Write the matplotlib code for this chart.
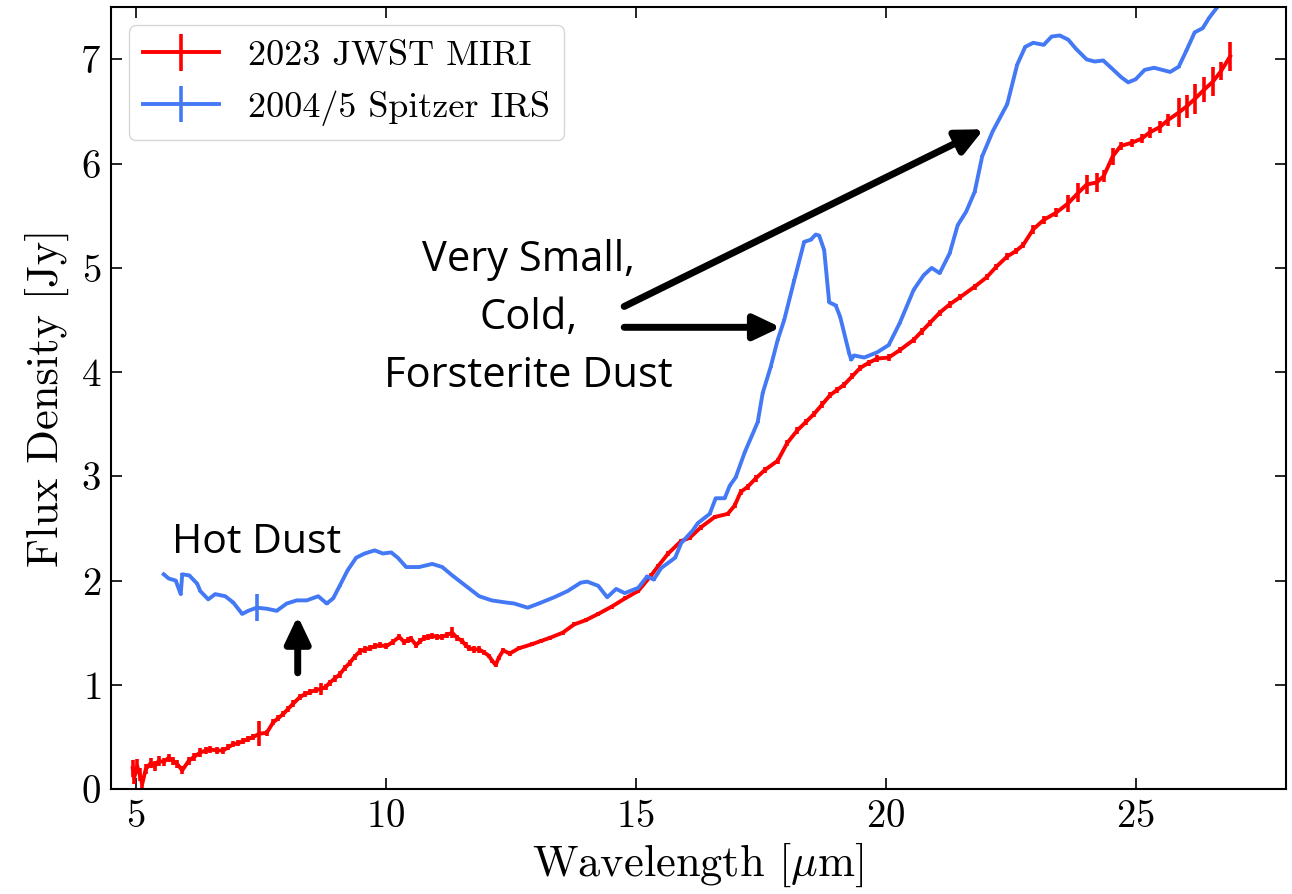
import matplotlib
matplotlib.use('Agg')
import matplotlib.pyplot as plt
import numpy as np

plt.rcParams['font.family'] = 'serif'
plt.rcParams['font.serif'] = ['cmr10']
plt.rcParams['mathtext.fontset'] = 'cm'
plt.rcParams['axes.formatter.use_mathtext'] = True

# 2023 JWST MIRI spectrum
miri_wave = [4.94, 4.97, 5.03, 5.08, 5.13, 5.20, 5.30, 5.38, 5.46, 5.56, 5.66, 5.75, 5.83, 5.93,
             6.06, 6.17, 6.29, 6.40, 6.49, 6.62, 6.75, 6.85, 6.95, 7.05, 7.15, 7.25, 7.35, 7.47,
             7.62, 7.75, 7.85, 7.95, 8.05, 8.15, 8.28, 8.38, 8.48, 8.60, 8.71, 8.80, 8.88, 8.98,
             9.08, 9.18, 9.28, 9.38, 9.48, 9.58, 9.68, 9.78, 9.88, 10.01, 10.14, 10.27, 10.37,
             10.45, 10.51, 10.61, 10.69, 10.77, 10.85, 10.93, 11.03, 11.13, 11.23, 11.33, 11.43,
             11.53, 11.60, 11.67, 11.77, 11.87, 11.97, 12.06, 12.13, 12.20, 12.26, 12.35, 12.48,
             12.66, 12.93, 13.10, 13.28, 13.54, 13.77, 14.00, 14.25, 14.52, 14.79, 15.05, 15.31,
             15.45, 15.65, 15.91, 16.08, 16.30, 16.58, 16.84, 16.98, 17.10, 17.24, 17.40, 17.58,
             17.84, 18.03, 18.23, 18.40, 18.57, 18.73, 18.89, 19.03, 19.17, 19.33, 19.49, 19.66,
             19.83, 20.06, 20.28, 20.56, 20.72, 20.88, 21.08, 21.28, 21.49, 21.78, 22.02, 22.21,
             22.43, 22.60, 22.75, 22.95, 23.16, 23.41, 23.65, 23.85, 24.02, 24.22, 24.36, 24.54,
             24.70, 24.92, 25.12, 25.28, 25.48, 25.65, 25.86, 26.02, 26.18, 26.37, 26.55, 26.71,
             26.89]
miri_flux = [0.20, 0.11, 0.22, 0.14, 0.05, 0.19, 0.25, 0.22, 0.27, 0.26, 0.30, 0.27, 0.24, 0.18,
             0.27, 0.31, 0.35, 0.37, 0.38, 0.37, 0.37, 0.40, 0.43, 0.44, 0.46, 0.48, 0.50, 0.53,
             0.54, 0.64, 0.68, 0.72, 0.77, 0.82, 0.88, 0.91, 0.93, 0.95, 0.96, 0.98, 1.02, 1.06,
             1.10, 1.16, 1.21, 1.27, 1.32, 1.34, 1.35, 1.37, 1.38, 1.37, 1.41, 1.46, 1.41,
             1.43, 1.44, 1.38, 1.42, 1.45, 1.46, 1.47, 1.46, 1.46, 1.48, 1.50, 1.45,
             1.42, 1.38, 1.35, 1.34, 1.34, 1.31, 1.28, 1.23, 1.19, 1.26, 1.33, 1.30,
             1.35, 1.39, 1.42, 1.45, 1.50, 1.58, 1.62, 1.68, 1.75, 1.83, 1.90, 2.05,
             2.14, 2.26, 2.38, 2.41, 2.51, 2.61, 2.64, 2.72, 2.85, 2.90, 2.98, 3.06,
             3.15, 3.32, 3.44, 3.52, 3.60, 3.69, 3.78, 3.83, 3.88, 3.96, 4.04, 4.09,
             4.13, 4.14, 4.21, 4.31, 4.39, 4.47, 4.57, 4.65, 4.72, 4.82, 4.91, 5.01,
             5.11, 5.16, 5.22, 5.37, 5.46, 5.53, 5.62, 5.72, 5.80, 5.82, 5.88, 6.07,
             6.17, 6.20, 6.24, 6.30, 6.35, 6.42, 6.49, 6.55, 6.62, 6.71, 6.79, 6.89,
             7.03]
miri_err = [0.08, 0.06, 0.07, 0.06, 0.07, 0.05, 0.05, 0.05, 0.05, 0.04, 0.04, 0.04, 0.04, 0.04,
            0.04, 0.04, 0.04, 0.03, 0.03, 0.03, 0.03, 0.03, 0.03, 0.03, 0.03, 0.03, 0.03, 0.12,
            0.03, 0.03, 0.03, 0.03, 0.03, 0.03, 0.03, 0.03, 0.03, 0.03, 0.06, 0.03, 0.03, 0.03,
            0.03, 0.03, 0.03, 0.03, 0.03, 0.03, 0.03, 0.03, 0.03, 0.03, 0.03, 0.03, 0.03,
            0.03, 0.03, 0.03, 0.03, 0.03, 0.03, 0.03, 0.03, 0.03, 0.03, 0.05, 0.03,
            0.03, 0.03, 0.03, 0.03, 0.03, 0.02, 0.02, 0.02, 0.02, 0.02, 0.02, 0.02,
            0.02, 0.02, 0.02, 0.02, 0.02, 0.02, 0.02, 0.02, 0.02, 0.02, 0.02, 0.02,
            0.02, 0.02, 0.02, 0.02, 0.02, 0.02, 0.02, 0.02, 0.03, 0.03, 0.03, 0.03,
            0.03, 0.03, 0.03, 0.03, 0.03, 0.03, 0.03, 0.03, 0.03, 0.03, 0.03, 0.03,
            0.03, 0.03, 0.03, 0.03, 0.03, 0.03, 0.03, 0.03, 0.03, 0.03, 0.03, 0.03,
            0.03, 0.03, 0.03, 0.04, 0.04, 0.04, 0.08, 0.09, 0.09, 0.09, 0.06, 0.08,
            0.04, 0.04, 0.04, 0.05, 0.06, 0.06, 0.14, 0.11, 0.14, 0.12, 0.14, 0.09,
            0.14]

# 2004/5 Spitzer IRS spectrum
irs_wave = [5.56, 5.66, 5.80, 5.90, 5.93, 6.07, 6.23, 6.29, 6.45, 6.59, 6.79, 6.95, 7.13, 7.25,
            7.42, 7.62, 7.82, 8.02, 8.22, 8.42, 8.65, 8.82, 8.95, 9.08, 9.24, 9.41, 9.58, 9.78,
            9.94, 10.11, 10.24, 10.41, 10.67, 10.93, 11.13, 11.33, 11.60, 11.87, 12.12, 12.40,
            12.57, 12.84, 13.06, 13.37, 13.64, 13.90, 14.03, 14.25, 14.43, 14.61, 14.78, 15.05,
            15.23, 15.36, 15.51, 15.79, 15.91, 16.14, 16.24, 16.48, 16.60, 16.78, 16.88, 17.00,
            17.18, 17.44, 17.54, 17.70, 17.84, 17.97, 18.17, 18.37, 18.50, 18.60, 18.67, 18.77,
            18.87, 19.00, 19.09, 19.27, 19.31, 19.37, 19.57, 19.83, 20.06, 20.28, 20.56, 20.76,
            20.92, 21.08, 21.28, 21.44, 21.61, 21.78, 21.93, 22.14, 22.43, 22.63, 22.79, 22.95,
            23.16, 23.32, 23.48, 23.65, 23.81, 24.02, 24.18, 24.35, 24.51, 24.71, 24.85, 25.00,
            25.18, 25.37, 25.69, 25.86, 26.01, 26.18, 26.34, 26.47, 26.63, 26.80]
irs_flux = [2.06, 2.02, 2.00, 1.87, 2.06, 2.05, 1.97, 1.90, 1.82, 1.87, 1.85, 1.79, 1.68, 1.71,
            1.74, 1.73, 1.71, 1.78, 1.81, 1.81, 1.85, 1.78, 1.83, 1.95, 2.10, 2.22, 2.26, 2.29,
            2.26, 2.27, 2.22, 2.13, 2.13, 2.16, 2.13, 2.05, 1.95, 1.85, 1.81, 1.79,
            1.78, 1.74, 1.78, 1.84, 1.90, 1.98, 1.99, 1.95, 1.84, 1.92, 1.88, 1.93,
            2.04, 2.01, 2.12, 2.22, 2.36, 2.48, 2.55, 2.64, 2.79, 2.79, 2.91, 2.99,
            3.23, 3.52, 3.80, 4.05, 4.31, 4.50, 4.88, 5.25, 5.27, 5.32, 5.31, 5.17,
            4.67, 4.64, 4.53, 4.18, 4.12, 4.16, 4.14, 4.19, 4.26, 4.47, 4.79, 4.93,
            5.00, 4.95, 5.14, 5.41, 5.54, 5.73, 6.07, 6.31, 6.57, 6.95, 7.12, 7.16,
            7.14, 7.22, 7.23, 7.19, 7.10, 7.00, 6.98, 6.99, 6.92, 6.83, 6.78, 6.81,
            6.90, 6.92, 6.88, 6.93, 7.08, 7.26, 7.30, 7.40, 7.50, 7.65]
irs_err = [0.01] * len(irs_wave)
irs_err[irs_wave.index(7.42)] = 0.13

fig = plt.figure(figsize=(12.92, 8.94), dpi=100)
ax = fig.add_axes([0.0857, 0.1174, 0.9094, 0.8744])

ax.errorbar(miri_wave, miri_flux, yerr=miri_err, color='#ff0000', lw=2.8, elinewidth=2.6,
            label='2023 JWST MIRI')
ax.errorbar(irs_wave, irs_flux, yerr=irs_err, color='#4479f6', lw=2.8, elinewidth=2.6,
            label='2004/5 Spitzer IRS')

ax.set_xlim(4.5, 28)
ax.set_ylim(0, 7.5)
ax.set_xticks([5, 10, 15, 20, 25])
ax.set_yticks(range(8))
ax.tick_params(direction='in', top=True, right=True, length=8, width=1.2,
               labelsize=28, pad=7)
for s in ax.spines.values():
    s.set_linewidth(1.5)

ax.set_xlabel(r'Wavelength [$\mu$m]', fontsize=32, labelpad=4)
ax.set_ylabel('Flux Density [Jy]', fontsize=32, labelpad=8)

ax.legend(loc='upper left', fontsize=26, handlelength=2.1, borderaxespad=0.5)

# annotations
sans = 'Open Sans'
ax.text(7.41, 2.36, 'Hot Dust', fontsize=29.5, family=sans, ha='center', va='center')
ax.text(12.85, 4.52, 'Very Small,\nCold,\nForsterite Dust', fontsize=30, family=sans,
        ha='center', va='center', linespacing=1.5)

arrow = dict(arrowstyle='-|>,head_length=0.8,head_width=0.38', lw=5, color='k',
             shrinkA=0, shrinkB=0, mutation_scale=20)
ax.annotate('', xy=(8.24, 1.66), xytext=(8.24, 1.115), arrowprops=arrow)
ax.annotate('', xy=(17.9, 4.43), xytext=(14.77, 4.43), arrowprops=arrow)
ax.annotate('', xy=(21.96, 6.33), xytext=(14.77, 4.63), arrowprops=arrow)

fig.savefig('out.png', dpi=100)
